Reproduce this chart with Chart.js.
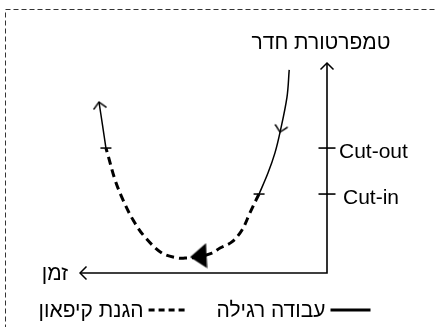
<!DOCTYPE html>
<html><head><meta charset="utf-8">
<script src="https://cdn.jsdelivr.net/npm/chart.js@4/dist/chart.umd.min.js"></script>
<style>html,body{margin:0;padding:0;background:#fff;overflow:hidden}#wrap{width:437px;height:327px}</style>
</head><body><div id="wrap"><canvas id="c" width="437" height="327"></canvas></div>
<script>
// ---- DATA ----
const axisTitle = 'טמפרטורת חדר';
const timeLabel = 'זמן';
const seriesLabels = ['עבודה רגילה', 'הגנת קיפאון'];
const cutLevels = [3.76, 5.95];
const cutLabels = ['Cut-in', 'Cut-out'];
const axisMax = [10, 10]; // time, temperature
const coolTime = [1.53, 1.62, 1.90, 2.11, 2.39, 2.75];
const coolTemp = [9.67, 8.38, 6.71, 5.71, 4.76, 3.76];
const frostTime = [2.75, 2.87, 3.12, 3.44, 3.85, 4.33, 4.66, 5.22, 5.75, 6.03, 6.68, 7.37, 7.85, 8.26, 8.58, 8.87, 8.95];
const frostTemp = [3.76, 3.48, 2.86, 2.05, 1.48, 1.19, 0.95, 0.76, 0.71, 0.71, 0.95, 1.71, 2.52, 3.48, 4.43, 5.62, 5.95];
const riseTime = [8.95, 9.09, 9.23];
const riseTemp = [5.95, 7.05, 8.14];
const turnTime = [5.20];
const turnTemp = [0.83];

// ---- helpers ----
const pts = (xs, ys) => xs.map((v, i) => ({x: v, y: ys[i]}));
function chevron() {
  const c = document.createElement('canvas'); c.width = 16; c.height = 16;
  const g = c.getContext('2d'); g.strokeStyle = '#000'; g.lineWidth = 1.5;
  g.beginPath(); g.moveTo(1.5, 14.5); g.lineTo(8, 8); g.lineTo(14.5, 14.5); g.stroke();
  return c;
}
function leftTriangle() {
  const c = document.createElement('canvas'); c.width = 18; c.height = 26;
  const g = c.getContext('2d'); g.fillStyle = '#000';
  g.beginPath(); g.moveTo(0.5, 14.5); g.lineTo(16.5, 0.5); g.lineTo(17.5, 25.5); g.closePath(); g.fill();
  return c;
}
const ARROW = chevron();
const TRI = leftTriangle();
const BLACK = '#000';

function marks(map) { // map: index -> {style, r, rot}
  return {
    pointStyle: c => (map[c.dataIndex] ? map[c.dataIndex].style : 'circle'),
    pointRadius: c => (map[c.dataIndex] ? map[c.dataIndex].r : 0),
    pointRotation: c => (map[c.dataIndex] ? map[c.dataIndex].rot : 0)
  };
}

const decor = {
  id: 'decor',
  afterDatasetsDraw(chart) {
    const {ctx, scales: {x, y}} = chart;
    const ax = x.getPixelForValue(0), ay = y.getPixelForValue(0);
    const top = y.getPixelForValue(axisMax[1]), left = x.getPixelForValue(axisMax[0]);
    ctx.save();
    ctx.fillStyle = BLACK;
    ctx.font = '21px "Liberation Sans", Arial, sans-serif';
    ctx.textBaseline = 'alphabetic';
    ctx.textAlign = 'center';
    ctx.fillText(axisTitle, ax - 6, top - 14);
    ctx.textAlign = 'left';
    cutLevels.forEach((v, i) => ctx.fillText(cutLabels[i], ax + (i === 0 ? 16 : 12), y.getPixelForValue(v) + 10));
    ctx.textAlign = 'right';
    ctx.fillText(timeLabel, left - 12, ay + 7);
    // dashed frame
    ctx.strokeStyle = '#333'; ctx.lineWidth = 1; ctx.setLineDash([5, 3]);
    ctx.strokeRect(5.5, 9.5, chart.width + 20, chart.height + 20);
    // legend (right-to-left)
    const ds = chart.data.datasets;
    const items = seriesLabels.map(l => ds.find(d => d.label === l));
    let xr = chart.width / 2 + 152;
    const ly = chart.height - 17;
    items.forEach(d => {
      ctx.strokeStyle = BLACK;
      ctx.setLineDash(d.borderDash && d.borderDash.length ? [6, 4] : []);
      ctx.lineWidth = 3;
      ctx.beginPath(); ctx.moveTo(xr - 40, ly); ctx.lineTo(xr, ly); ctx.stroke();
      ctx.setLineDash([]);
      ctx.textAlign = 'right';
      ctx.fillText(d.label, xr - 45, ly + 7);
      xr = xr - 45 - ctx.measureText(d.label).width - 28;
    });
    ctx.restore();
  }
};

new Chart(document.getElementById('c'), {
  type: 'scatter',
  data: {
    datasets: [
      Object.assign({
        label: 'turn', data: pts(turnTime, turnTemp), showLine: false
      }, marks({0: {style: TRI, r: 8, rot: 0}})),
      Object.assign({
        label: seriesLabels[0], data: pts(coolTime, coolTemp), showLine: true,
        borderColor: BLACK, borderWidth: 1.5, tension: 0.35,
        pointBorderColor: BLACK, pointBorderWidth: 1.5, pointBackgroundColor: BLACK
      }, marks({2: {style: ARROW, r: 6, rot: 192}, 5: {style: 'line', r: 5.5, rot: 0}})),
      Object.assign({
        label: 'rise', data: pts(riseTime, riseTemp), showLine: true,
        borderColor: BLACK, borderWidth: 1.5, tension: 0.35,
        pointBorderColor: BLACK, pointBorderWidth: 1.5
      }, marks({0: {style: 'line', r: 5.5, rot: 0}, 2: {style: ARROW, r: 6, rot: 351}})),
      Object.assign({
        label: seriesLabels[1], data: pts(frostTime, frostTemp), showLine: true,
        borderColor: BLACK, borderWidth: 3, borderDash: [8, 5], tension: 0.35
      }, marks({})),
      Object.assign({
        label: 'cuts', data: cutLevels.map(v => ({x: 0, y: v})), showLine: false,
        pointBorderColor: BLACK, pointBorderWidth: 1.6
      }, marks({0: {style: 'line', r: 8.5, rot: 0}, 1: {style: 'line', r: 8.5, rot: 0}})),
      Object.assign({
        label: 'axes', data: [{x: axisMax[0], y: 0}, {x: 0, y: 0}, {x: 0, y: axisMax[1]}], showLine: true,
        borderColor: BLACK, borderWidth: 1.6, tension: 0
      }, marks({0: {style: ARROW, r: 6, rot: 270}, 2: {style: ARROW, r: 6, rot: 0}}))
    ]
  },
  options: {
    responsive: false, animation: false, events: [],
    clip: false,
    layout: {padding: {left: 80, right: 110, top: 63, bottom: 54}},
    scales: {
      x: {type: 'linear', min: 0, max: axisMax[0], reverse: true, display: false},
      y: {type: 'linear', min: 0, max: axisMax[1], display: false}
    },
    plugins: {legend: {display: false}, tooltip: {enabled: false}, title: {display: false}}
  },
  plugins: [decor]
});
</script></body></html>
